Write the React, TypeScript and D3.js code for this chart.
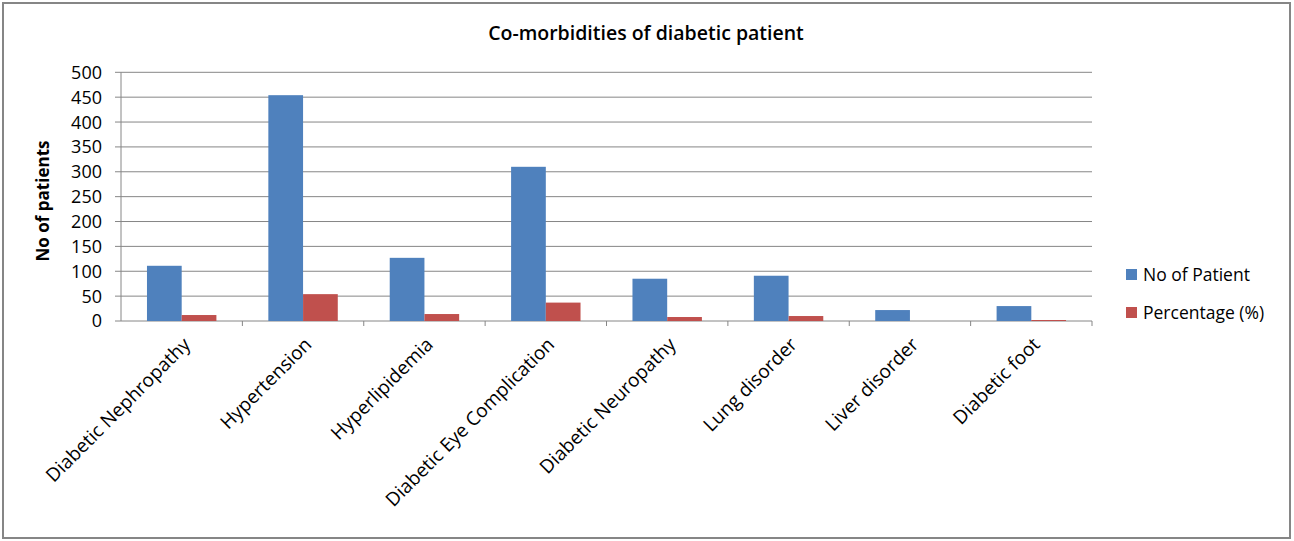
import * as d3 from 'd3';

const categories = [
  'Diabetic Nephropathy',
  'Hypertension',
  'Hyperlipidemia',
  'Diabetic Eye Complication',
  'Diabetic Neuropathy',
  'Lung disorder',
  'Liver disorder',
  'Diabetic foot',
];
const noOfPatient = [111, 454, 127, 310, 85, 91, 22, 30];
const percentage = [12, 54, 14, 37, 8, 10, 0, 2];
const seriesNames = ['No of Patient', 'Percentage (%)'];
const seriesColors = ['#4F81BD', '#C0504D'];
const yTicks = [0, 50, 100, 150, 200, 250, 300, 350, 400, 450, 500];

const W = 1294, H = 541;
const FONT = '"Open Sans", sans-serif';

export default function App() {
  const x0 = d3.scaleBand<string>()
    .domain(categories)
    .range([121, 1092])
    .paddingInner(0.428)
    .paddingOuter(0.214);
  const x1 = d3.scaleBand<number>()
    .domain([0, 1])
    .range([0, x0.bandwidth()]);
  const y = d3.scaleLinear().domain([0, 500]).range([321, 72.3]);

  const series = [noOfPatient, percentage];
  const step = x0.step();
  const left = 121, right = 1092;

  return (
    <svg width={W} height={H} style={{ position: 'absolute', left: 0, top: 0, background: '#fff' }}>
      <rect x={3} y={3} width={1287} height={535} fill="#fff" stroke="#868686" strokeWidth={2} />

      <text x={646} y={40} textAnchor="middle" fontFamily={FONT} fontSize={19.5} fontWeight={600}>
        Co-morbidities of diabetic patient
      </text>

      {/* grid + y ticks */}
      {yTicks.map(t => (
        <g key={t}>
          <line x1={left - 6} x2={right} y1={y(t)} y2={y(t)} stroke="#868686" strokeWidth={1} />
          <text x={102} y={y(t)} dy="0.36em" textAnchor="end" fontFamily={FONT} fontSize={18}>
            {t}
          </text>
        </g>
      ))}
      <line x1={left} x2={left} y1={y(500)} y2={y(0)} stroke="#868686" strokeWidth={1} />

      {/* category tick marks */}
      {categories.map((c, i) => (
        <line key={c} x1={left + step * (i + 1)} x2={left + step * (i + 1)} y1={y(0)} y2={y(0) + 5} stroke="#868686" />
      ))}

      {/* bars */}
      {categories.map((c, i) => (
        <g key={c} transform={`translate(${x0(c)},0)`}>
          {series.map((s, k) => (
            <rect key={k} x={x1(k)} y={y(s[i])} width={x1.bandwidth()} height={y(0) - y(s[i])} fill={seriesColors[k]} />
          ))}
        </g>
      ))}

      {/* x labels */}
      {categories.map(c => {
        const cx = (x0(c) as number) + x0.bandwidth() / 2 + 5;
        return (
          <text key={c} transform={`translate(${cx},${341}) rotate(-45)`} textAnchor="end" fontFamily={FONT} fontSize={19} dy="0.35em">
            {c}
          </text>
        );
      })}

      <text transform={`translate(49,${201}) rotate(-90)`} textAnchor="middle" fontFamily={FONT} fontSize={17} fontWeight={700}>
        No of patients
      </text>

      {/* legend */}
      {seriesNames.map((n, k) => (
        <g key={n} transform={`translate(1126,${269 + k * 38})`}>
          <rect width={11} height={11} fill={seriesColors[k]} />
          <text x={17} y={12} fontFamily={FONT} fontSize={17.5}>{n}</text>
        </g>
      ))}
    </svg>
  );
}
